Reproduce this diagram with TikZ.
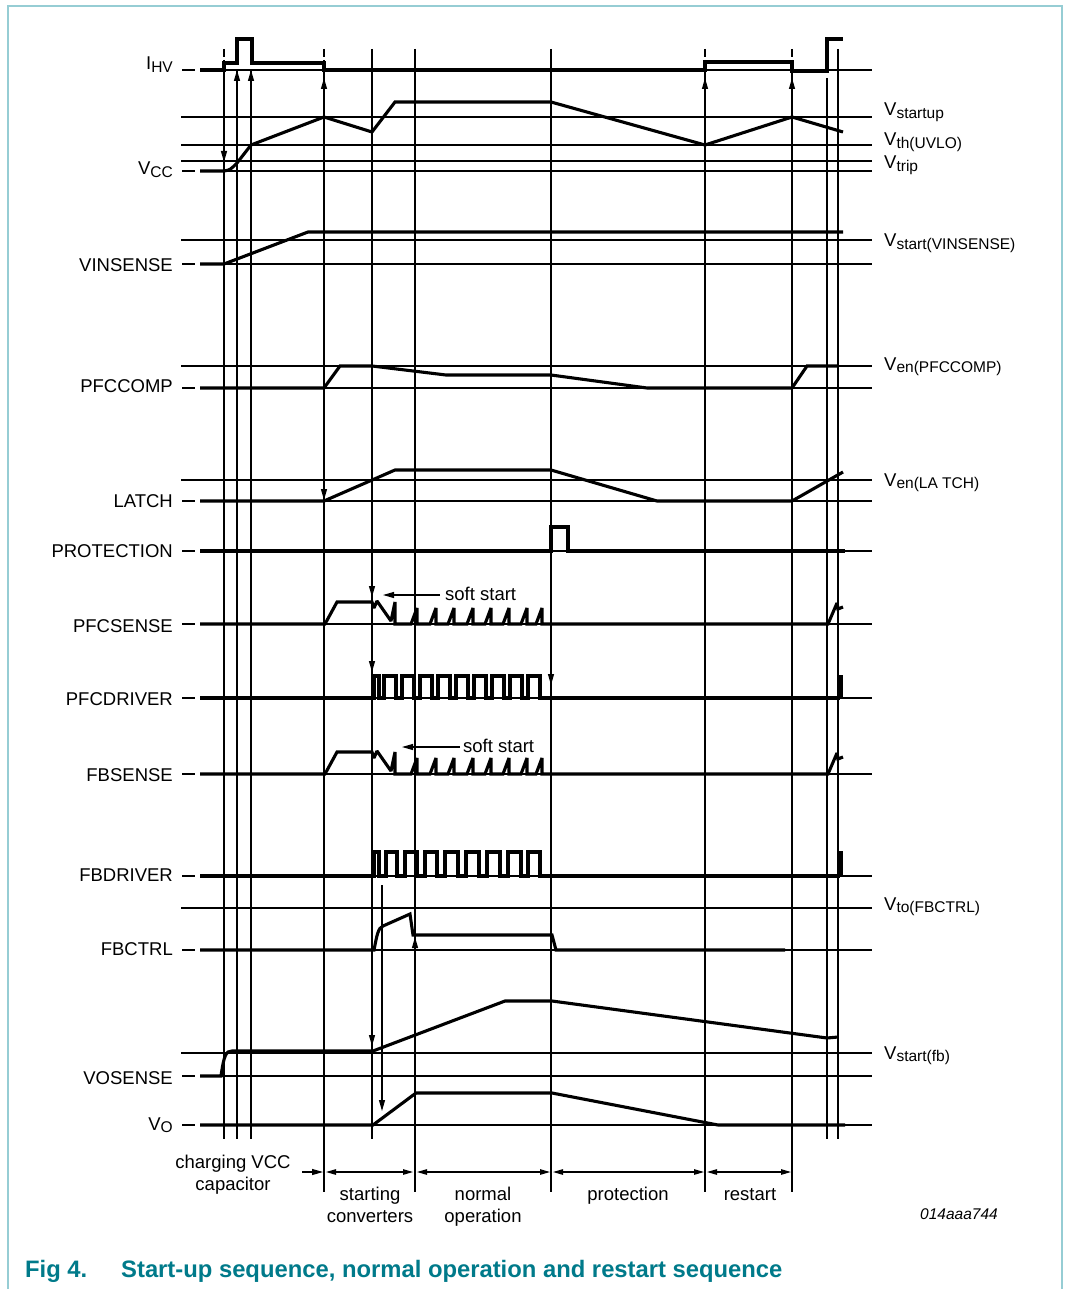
\documentclass[tikz,border=0pt]{standalone}
\usepackage{fontspec}
\setmainfont{Liberation Sans}
\usetikzlibrary{arrows.meta}

\definecolor{capteal}{RGB}{0,122,138}
\definecolor{frameteal}{RGB}{150,205,212}

\newcommand{\lblfont}{\fontsize{18.5}{22}\selectfont}
\newcommand{\subtxt}[1]{\raisebox{-2.5pt}{\fontsize{15.5}{18}\selectfont #1}}

\tikzset{
  grid line/.style={line width=1.1pt},
  wave/.style={line width=3.1pt, line join=miter, miter limit=2},
  marker/.style={line width=1.1pt, -{Triangle[length=11pt,width=6pt]}},
  phase arrow/.style={line width=1.1pt, {Triangle[length=10pt,width=5.5pt]}-{Triangle[length=10pt,width=5.5pt]}},
  name left/.style={anchor=base east, inner sep=0pt, font=\lblfont},
  name right/.style={anchor=base west, inner sep=0pt, font=\lblfont},
  phase/.style={anchor=base, inner sep=0pt, font=\lblfont},
}

\begin{document}
\begin{tikzpicture}[x=1pt,y=-1pt]
\useasboundingbox (0,0) rectangle (1066,1289);
\draw[frameteal, line width=1.2pt] (8,1289) -- (8,6) -- (1062,6) -- (1062,1289);

% threshold levels
\foreach \y in {117,145,161,240,366,480,908,1053}
    \draw[grid line] (181,\y) -- (872,\y);

% zero levels, with the short dash after the name
\foreach \y in {70,171,264,388,501,551,624,698,774,876,950,1076,1125}
{
    \draw[grid line] (182,\y) -- (195,\y);
    \draw[grid line] (200,\y) -- (872,\y);
}

% time markers
\foreach \x/\ya/\yb in {224/70/1139,237/70/1139,251/70/1139,324/70/1192,372/49/1139,415/49/1192,
                        551/49/1192,705/70/1192,792/70/1192,827/78/1139,838/49/1139}
    \draw[grid line] (\x,\ya) -- (\x,\yb);
\foreach \x in {224,324,705,792}
    \draw[grid line, dash pattern=on 8pt off 3pt] (\x,49) -- (\x,70);

\draw[marker] (224,140) -- (224,162);
\draw[marker] (237,160) -- (237,70);
\draw[marker] (251,145) -- (251,70);
\draw[marker] (324,117) -- (324,78);
\draw[marker] (324,470) -- (324,500);
\draw[marker] (372,570) -- (372,597);
\draw[marker] (372,640) -- (372,672);
\draw[marker] (372,1010) -- (372,1046);
\draw[marker] (382,885) -- (382,1111);
\draw[marker] (415,980) -- (415,937);
\draw[marker] (551,650) -- (551,685);
\draw[marker] (705,145) -- (705,78);
\draw[marker] (792,117) -- (792,78);

% waveforms
\draw[wave] (200,70) -- (224,70) -- (224,63) -- (237,63) -- (237,39) -- (252,39) -- (252,63) -- (324,63) -- (324,70)
    -- (705,70) -- (705,62) -- (792,62) -- (792,71) -- (827,71) -- (827,39) -- (843,39);
\draw[wave] (200,171) -- (224,171) .. controls (230,170) .. (237,163) -- (251,145) -- (324,117) -- (372,132)
    -- (395,102) -- (551,102) -- (705,145) -- (792,117) -- (843,132);
\draw[wave] (200,264) -- (224,264) -- (308,232) -- (843,232);
\draw[wave] (200,388) -- (324,388) -- (340,366) -- (372,366) -- (446,375) -- (551,375) -- (647,388)
    -- (792,388) -- (807,366) -- (838,366);
\draw[wave] (200,501) -- (324,501) -- (395,470) -- (551,470) -- (657,501) -- (792,501) -- (843,472);
\draw[wave] (200,551) -- (551,551) -- (551,527) -- (568,527) -- (568,551) -- (845,551);

\foreach \b in {624,774}
    \draw[wave] (200,\b) -- (325,\b) -- (337,\b-22) -- (372,\b-22) -- (374,\b-16) -- (377,\b-23) -- (391,\b-3)
        -- (395,\b-22) -- (395,\b)
        \foreach \p in {417,436,454,473,491,509,527,542} { -- (\p-6,\b) -- (\p,\b-16) -- (\p,\b) }
        -- (828,\b) -- (837,\b-21) -- (838,\b-15) -- (843,\b-17);

\draw[wave] (200,698) \foreach \rs/\fs in {374/379,384/396,402/414,420/432,438/450,456/468,474/486,492/504,510/522,528/540}
    { -- (\rs,698) -- (\rs,676) -- (\fs,676) -- (\fs,698) } -- (840,698);
\fill (838,675) rectangle (843,699);

\draw[wave] (200,876) \foreach \rs/\fs in {374/379,386/397,405/417,425/437,445/458,466/479,487/500,508/521,528/540}
    { -- (\rs,876) -- (\rs,852) -- (\fs,852) -- (\fs,876) } -- (840,876);
\fill (838,851) rectangle (843,877);

\draw[wave] (200,950) -- (374,950) .. controls (377,935) and (378,928) .. (383,926) -- (410,914) -- (413,935)
    -- (552,935) -- (556,950) -- (785,950);
\draw[wave] (200,1076) -- (221,1076) .. controls (224,1055) and (226,1051) .. (232,1051) -- (373,1051)
    -- (505,1001) -- (552,1001) -- (827,1038) -- (838,1037);
\draw[wave] (200,1125) -- (373,1125) -- (416,1093) -- (552,1093) -- (718,1125) -- (845,1125);

% soft start
\draw[marker] (440,595) -- (383,595);
\node[name right] (ssPFC) at (445,600) {soft start};
\draw[marker] (460,747) -- (402,747);
\node[name right] (ssFB) at (463,752) {soft start};

% signal names
\node[name left] (nIHV) at (173,70) {I\subtxt{HV}};
\node[name left] (nVCC) at (173,175) {V\subtxt{CC}};
\node[name left] (nVIN) at (173,271) {VINSENSE};
\node[name left] (nPFCCOMP) at (173,392) {PFCCOMP};
\node[name left] (nLATCH) at (173,507) {LATCH};
\node[name left] (nPROT) at (173,557) {PROTECTION};
\node[name left] (nPFCSENSE) at (173,632) {PFCSENSE};
\node[name left] (nPFCDRV) at (173,705) {PFCDRIVER};
\node[name left] (nFBSENSE) at (173,781) {FBSENSE};
\node[name left] (nFBDRV) at (173,881) {FBDRIVER};
\node[name left] (nFBCTRL) at (173,955) {FBCTRL};
\node[name left] (nVOS) at (173,1084) {VOSENSE};
\node[name left] (nVO) at (173,1130) {V\subtxt{O}};

% threshold names
\node[name right] (tStartup) at (884,116) {V\subtxt{startup}};
\node[name right] (tUVLO) at (884,146) {V\subtxt{th(UVLO)}};
\node[name right] (tTrip) at (884,169) {V\subtxt{trip}};
\node[name right] (tVIN) at (884,247) {V\subtxt{start(VINSENSE)}};
\node[name right] (tPFC) at (884,370) {V\subtxt{en(PFCCOMP)}};
\node[name right] (tLatch) at (884,486) {V\subtxt{en(LA TCH)}};
\node[name right] (tFB) at (884,910) {V\subtxt{to(FBCTRL)}};
\node[name right] (tFBstart) at (884,1059) {V\subtxt{start(fb)}};

% phases
\draw[marker] (302,1172) -- (323,1172);
\draw[phase arrow] (326,1172) -- (413,1172);
\draw[phase arrow] (417,1172) -- (550,1172);
\draw[phase arrow] (553,1172) -- (704,1172);
\draw[phase arrow] (707,1172) -- (791,1172);
\node[phase] (pCharge) at (233,1168) {charging VCC};
\node[phase] (pCap) at (233,1190) {capacitor};
\node[phase] (pStart) at (370,1200) {starting};
\node[phase] (pConv) at (370,1222) {converters};
\node[phase] (pNormal) at (483,1200) {normal};
\node[phase] (pOper) at (483,1222) {operation};
\node[phase] (pProt) at (628,1200) {protection};
\node[phase] (pRestart) at (750,1200) {restart};
\node[anchor=base, inner sep=0pt, font=\itshape\fontsize{15.5}{18}\selectfont] (figcode) at (959,1219) {014aaa744};

% caption
\node[anchor=base west, inner sep=0pt, text=capteal, font=\bfseries\fontsize{23.8}{28}\selectfont] (figno) at (25,1277) {Fig 4.};
\node[anchor=base west, inner sep=0pt, text=capteal, font=\bfseries\fontsize{23.8}{28}\selectfont] (figtitle) at (121,1277)
    {Start-up sequence, normal operation and restart sequence};

\end{tikzpicture}
\end{document}
